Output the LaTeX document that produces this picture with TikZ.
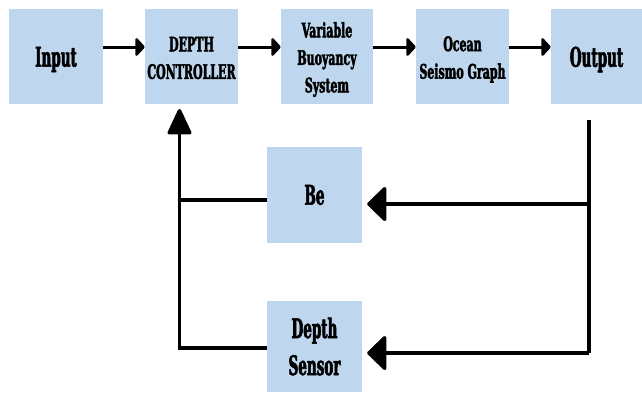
\documentclass[tikz,border=0pt]{standalone}
\usepackage{fontspec}
\usetikzlibrary{arrows.meta}
\newfontfamily\bigf[FakeStretch=0.5,FakeBold=2]{DejaVu Serif}
\newfontfamily\smallf[FakeStretch=0.55,FakeBold=2]{DejaVu Serif}
\definecolor{boxblue}{RGB}{190,214,238}
\tikzset{
  blk/.style={fill=boxblue, draw=none, inner sep=0pt},
  txt/.style={inner sep=0pt, align=center},
  bigtxt/.style={txt, font=\bigf\bfseries\fontsize{27}{37}\selectfont},
  smalltxt/.style={txt, font=\smallf\bfseries\fontsize{20}{27.5}\selectfont},
  toparrow/.style={line width=3pt, -{Triangle[round,length=10pt,width=21pt]}},
  fbline/.style={line width=3.5pt},
  fbarrow/.style={line width=3.5pt, -{Triangle[round,length=20pt,width=38pt]}},
  uparrow/.style={line width=3.5pt, -{Triangle[round,length=28pt,width=25pt]}}
}
\begin{document}
\begin{tikzpicture}[x=1pt,y=-1pt]
\useasboundingbox (0,0) rectangle (642,392);
% top row boxes
\node[blk,minimum width=94pt,minimum height=95pt] (in) at (56,56.5) {};
\node[blk,minimum width=93pt,minimum height=95pt] (dc) at (191.5,56.5) {};
\node[blk,minimum width=92pt,minimum height=95pt] (vb) at (327,56.5) {};
\node[blk,minimum width=93pt,minimum height=95pt] (oc) at (462.5,56.5) {};
\node[blk,minimum width=91pt,minimum height=95pt] (out) at (596.5,56.5) {};
% top row texts
\node[bigtxt] (int) at ([yshift=-3pt]in.center) {Input};
\node[smalltxt] (dct) at ([yshift=-1.5pt]dc.center) {DEPTH\\CONTROLLER};
\node[smalltxt] (vbt) at ([yshift=-3pt]vb.center) {Variable\\Buoyancy\\System};
\node[smalltxt] (oct) at ([yshift=-3pt]oc.center) {Ocean\\Seismo Graph};
\node[bigtxt] (outt) at ([yshift=-3pt]out.center) {Output};
% bottom boxes
\node[blk,bigtxt,minimum width=95pt,minimum height=96pt] (be) at (314.5,195) {Be};
\node[blk,bigtxt,minimum width=95pt,minimum height=91pt] (ds) at (314.5,346.5) {Depth\\Sensor};
% helper coordinates
\coordinate (arow) at (0,47);
\coordinate (rtop) at (589,120);
\coordinate (rbe) at (589,204);
\coordinate (rds) at (589,353);
\coordinate (lx) at (179.5,0);
\coordinate (lbe) at (0,200);
\coordinate (lds) at (0,348);
\coordinate (uptip) at (179.5,109);
% top arrows
\draw[toparrow] (in.east |- arow) -- (dc.west |- arow);
\draw[toparrow] (dc.east |- arow) -- (vb.west |- arow);
\draw[toparrow] (vb.east |- arow) -- (oc.west |- arow);
\draw[toparrow] (oc.east |- arow) -- (out.west |- arow);
% feedback from output
\draw[fbline] (rtop) -- (rds);
\draw[fbarrow] (rbe) -- ([xshift=5pt]be.east |- rbe);
\draw[fbarrow] (rds) -- ([xshift=5pt]ds.east |- rds);
% to controller
\draw[fbline] (be.west |- lbe) -- (lx |- lbe);
\draw[uparrow] (ds.west |- lds) -| (uptip);
\end{tikzpicture}
\end{document}
